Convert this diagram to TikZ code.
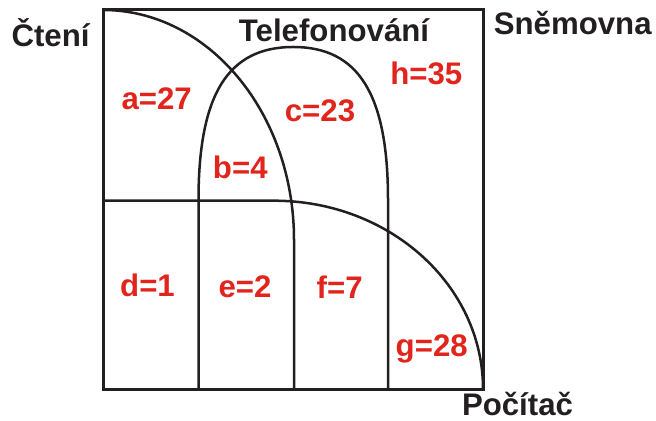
\documentclass[tikz,border=0pt]{standalone}
\usepackage{fontspec}
\setmainfont{Liberation Sans}
\usetikzlibrary{calc}
\definecolor{inkblack}{RGB}{35,31,32}
\definecolor{countred}{RGB}{225,36,28}

\begin{document}
\begin{tikzpicture}[x=0.5pt,y=-0.5pt,
  frame/.style={line width=1.5pt, draw=inkblack},
  setline/.style={line width=1.25pt, draw=inkblack},
  setname/.style={anchor=base, inner sep=0pt, text=inkblack,
    font=\fontsize{15.6}{18}\selectfont\bfseries},
  count/.style={anchor=base, inner sep=0pt, text=countred,
    font=\fontsize{15.6}{18}\selectfont\bfseries}]
\useasboundingbox (0,0) rectangle (656,421);
\def\xL{103}
\def\xR{483}
\def\yT{10}
\def\yB{389}
\coordinate (TL) at (\xL,\yT);
\coordinate (BR) at (\xR,\yB);
\coordinate (readFoot) at (294,\yB);
\coordinate (pcStart) at (\xL,200.7);
\coordinate (pcBend) at (274,200.7);
\coordinate (telL) at (198.5,\yB);
\coordinate (telLtop) at (198.5,200);
\coordinate (telTop) at (293.25,47);
\coordinate (telRtop) at (388,200);
\coordinate (telR) at (388,\yB);

% universe
\draw[frame] (TL) rectangle (BR);

% Cteni
\draw[setline] (TL) arc[start angle=-90, end angle=0, x radius=191, y radius=230] -- (readFoot);

% Pocitac
\draw[setline] (pcStart) -- (pcBend) arc[start angle=-90, end angle=0, x radius=209, y radius=188.3];

% Telefonovani
\draw[setline] (telL) -- (telLtop)
  .. controls (198.5,94.4) and (227.9,47) .. (telTop)
  .. controls (358.6,47) and (388,94.4) .. (telRtop) -- (telR);

\node[setname] (cteni) at (50.5,46.7) {Čtení};
\node[setname] (telefon) at (334,41.7) {Telefonování};
\node[setname] (snemovna) at (572.7,35) {Sněmovna};
\node[setname] (pocitac) at (517.5,415.5) {Počítač};

\node[count] (na) at (156.7,110) {a=27};
\node[count] (nb) at (240.3,178.3) {b=4};
\node[count] (nc) at (320,121.7) {c=23};
\node[count] (nh) at (426.3,85) {h=35};
\node[count] (nd) at (147.5,296.7) {d=1};
\node[count] (ne) at (245,297.3) {e=2};
\node[count] (nf) at (339.7,298.3) {f=7};
\node[count] (ng) at (431.7,356) {g=28};

\end{tikzpicture}
\end{document}
